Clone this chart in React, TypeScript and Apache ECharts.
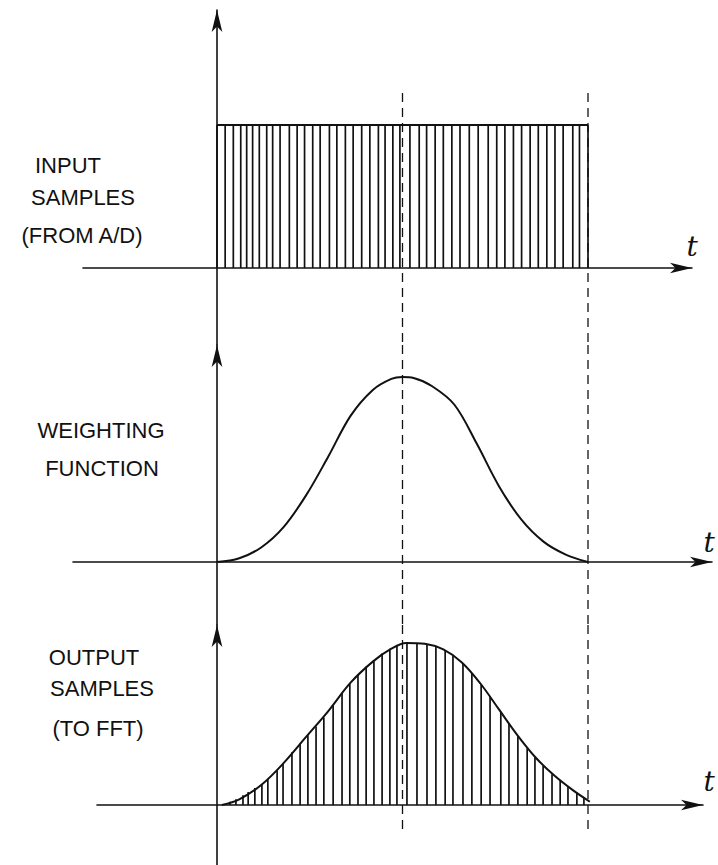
import React, { useEffect, useRef } from "react";
import * as echarts from "echarts";

// ---------- data (time t: 0 = start of record, 1 = end of record) ----------
const inputSampleT = [
  0, 0.022, 0.044, 0.064, 0.08, 0.096, 0.114, 0.134, 0.15, 0.17, 0.195, 0.216,
  0.236, 0.258, 0.278, 0.303, 0.323, 0.346, 0.367, 0.39, 0.412, 0.435, 0.453,
  0.474, 0.493, 0.52, 0.545, 0.565, 0.588, 0.61, 0.633, 0.655, 0.68, 0.704,
  0.731, 0.754, 0.776, 0.799, 0.821, 0.844, 0.866, 0.889, 0.911, 0.933, 0.959,
  0.977, 1.0,
];
const inputLevel = [0, 1]; // record start/end level (rectangle top)
const inputEdgeT = [0, 1];

const weightT = [
  0, 0.06, 0.12, 0.18, 0.24, 0.3, 0.36, 0.42, 0.47, 0.5, 0.53, 0.58, 0.64, 0.7,
  0.76, 0.82, 0.88, 0.94, 1.0,
];
const weightV = [
  0, 0.02, 0.08, 0.19, 0.36, 0.57, 0.79, 0.93, 0.99, 1.0, 0.995, 0.95, 0.85,
  0.64, 0.41, 0.23, 0.11, 0.04, 0,
];

const outputSampleT = [
  0.035, 0.051, 0.07, 0.084, 0.102, 0.121, 0.137, 0.162, 0.178, 0.202, 0.224,
  0.245, 0.267, 0.288, 0.313, 0.337, 0.358, 0.38, 0.402, 0.423, 0.445, 0.466,
  0.485, 0.512, 0.539, 0.566, 0.59, 0.615, 0.636, 0.663, 0.687, 0.712, 0.736,
  0.765, 0.787, 0.811, 0.836, 0.857, 0.879, 0.903, 0.925, 0.946, 0.97, 0.989,
];
const outputSampleV = [
  0.02, 0.035, 0.06, 0.08, 0.105, 0.13, 0.16, 0.215, 0.255, 0.325, 0.38, 0.43,
  0.485, 0.54, 0.615, 0.69, 0.75, 0.805, 0.855, 0.895, 0.935, 0.965, 0.985, 1.0,
  0.998, 0.99, 0.975, 0.955, 0.925, 0.875, 0.815, 0.745, 0.67, 0.575, 0.5,
  0.425, 0.35, 0.295, 0.24, 0.19, 0.15, 0.115, 0.075, 0.045,
];
const outputEnvT = [
  0.013, 0.06, 0.12, 0.18, 0.24, 0.3, 0.36, 0.42, 0.47, 0.51, 0.56, 0.61, 0.66,
  0.71, 0.76, 0.81, 0.86, 0.91, 0.96, 1.005,
];
const outputEnvV = [
  0, 0.035, 0.125, 0.26, 0.42, 0.58, 0.755, 0.885, 0.965, 1.0, 0.995, 0.96,
  0.88, 0.75, 0.59, 0.43, 0.29, 0.18, 0.09, 0.02,
];

const dashT = [0.5, 1];

const panelLabels = [
  ["INPUT", "SAMPLES", "(FROM A/D)"],
  ["WEIGHTING", "FUNCTION"],
  ["OUTPUT", "SAMPLES", "(TO FFT)"],
];
const axisName = "t";

// ---------- layout ----------
const W = 718;
const H = 865;
const T0PX = 217;
const TUNIT = 371;
const INK = "#111";

const panels = [
  { left: 83, right: 26, top: 10, bottomPx: 345, zeroY: 268, unitY: 143, dashTopPx: 93, dashBotPx: 345,
    labelX: [68, 83, 82], labelY: [165, 197, 235], tPos: [692, 246] },
  { left: 73, right: 6, top: 345, bottomPx: 625, zeroY: 562, unitY: 185, dashTopPx: 345, dashBotPx: 625,
    labelX: [101, 102], labelY: [430, 468], tPos: [709, 542] },
  { left: 97, right: 15, top: 625, bottomPx: 865, zeroY: 805, unitY: 162, dashTopPx: 625, dashBotPx: 830,
    labelX: [94, 102, 98], labelY: [657, 688, 728], tPos: [709, 781] },
];

export default function App() {
  const ref = useRef<HTMLDivElement>(null);
  useEffect(() => {
    if (!ref.current) return;
    const chart = echarts.init(ref.current, undefined, { renderer: "svg" });

    const grid = panels.map((p) => ({
      left: p.left,
      right: p.right,
      top: p.top,
      bottom: H - p.bottomPx,
      containLabel: false,
    }));
    const axisCommon = {
      axisTick: { show: false },
      axisLabel: { show: false },
      splitLine: { show: false },
    };
    const xAxis = panels.map((p, i) => ({
      type: "value",
      gridIndex: i,
      min: (p.left - T0PX) / TUNIT,
      max: (W - p.right - T0PX) / TUNIT,
      axisLine: {
        onZero: true,
        symbol: ["none", "arrow"],
        symbolSize: [8, 22],
        lineStyle: { color: INK, width: 1.6 },
      },
      ...axisCommon,
    }));
    const yAxis = panels.map((p, i) => ({
      type: "value",
      gridIndex: i,
      min: -(p.bottomPx - p.zeroY) / p.unitY,
      max: (p.zeroY - p.top) / p.unitY,
      axisLine: {
        onZero: true,
        symbol: ["none", "arrow"],
        symbolSize: [8, 22],
        lineStyle: { color: INK, width: 1.6 },
      },
      ...axisCommon,
    }));

    const stems = (data: number[][], i: number) => ({
      type: "custom",
      xAxisIndex: i,
      yAxisIndex: i,
      data,
      encode: { x: 0, y: 1 },
      renderItem: (_params: any, api: any) => {
        const t = api.value(0);
        const v = api.value(1);
        const p0 = api.coord([t, 0]);
        const p1 = api.coord([t, v]);
        return {
          type: "line",
          shape: { x1: p0[0], y1: p0[1], x2: p1[0], y2: p1[1] },
          style: { stroke: INK, lineWidth: 1.7 },
        };
      },
      z: 3,
    });

    const series: any[] = [];
    series.push(stems(inputSampleT.map((t) => [t, inputLevel[1]]), 0));
    series.push({
      type: "line",
      xAxisIndex: 0,
      yAxisIndex: 0,
      data: inputEdgeT.map((t) => [t, inputLevel[1]]),
      symbol: "none",
      lineStyle: { color: INK, width: 2 },
      z: 4,
    });
    series.push({
      type: "line",
      xAxisIndex: 1,
      yAxisIndex: 1,
      data: weightT.map((t, k) => [t, weightV[k]]),
      smooth: 0.35,
      symbol: "none",
      lineStyle: { color: INK, width: 2 },
      z: 4,
    });
    series.push(stems(outputSampleT.map((t, k) => [t, outputSampleV[k]]), 2));
    series.push({
      type: "line",
      xAxisIndex: 2,
      yAxisIndex: 2,
      data: outputEnvT.map((t, k) => [t, outputEnvV[k]]),
      smooth: 0.35,
      symbol: "none",
      lineStyle: { color: INK, width: 2 },
      z: 4,
    });
    panels.forEach((p, i) => {
      dashT.forEach((t) => {
        series.push({
          type: "line",
          xAxisIndex: i,
          yAxisIndex: i,
          data: [
            [t, (p.zeroY - p.dashTopPx) / p.unitY],
            [t, (p.zeroY - p.dashBotPx) / p.unitY],
          ],
          symbol: "none",
          lineStyle: { color: INK, width: 1.3, type: [9, 6] },
          z: 2,
        });
      });
    });

    const graphic: any[] = [];
    panels.forEach((p, i) => {
      panelLabels[i].forEach((txt, k) => {
        graphic.push({
          type: "text",
          x: p.labelX[k],
          y: p.labelY[k],
          style: {
            text: txt,
            fontFamily: "'Liberation Sans', 'DejaVu Sans', sans-serif",
            fontSize: 22,
            fill: INK,
            align: "center",
            verticalAlign: "middle",
            textAlign: "center",
            textVerticalAlign: "middle",
          },
        });
      });
      graphic.push({
        type: "text",
        x: p.tPos[0],
        y: p.tPos[1],
        style: {
          text: axisName,
          fontFamily: "'DejaVu Serif', serif",
          fontStyle: "italic",
          fontSize: 28,
          fill: INK,
          align: "center",
          verticalAlign: "middle",
          textAlign: "center",
          textVerticalAlign: "middle",
        },
      });
    });

    chart.setOption({
      animation: false,
      backgroundColor: "#ffffff",
      grid,
      xAxis,
      yAxis,
      series,
      graphic,
    });
    return () => chart.dispose();
  }, []);

  return (
    <div
      ref={ref}
      style={{ position: "absolute", left: 0, top: 0, width: W, height: H }}
    />
  );
}
